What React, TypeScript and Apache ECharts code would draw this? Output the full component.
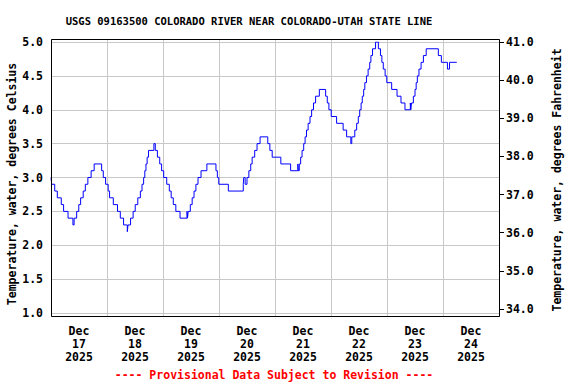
import React, { useEffect, useRef } from "react";
import * as echarts from "echarts";

// Hours since Dec 17 2025 00:00 at which the reading changes, and the reading (deg C)
const hours = [
  0, 0.3, 1.6, 2.7, 4.4, 5.4, 7.3, 9.4, 9.9, 11.0, 11.9, 12.7, 13.8, 14.7, 15.8, 17.2, 18.5, 21.7, 22.4, 23.4,
  24.5, 25.1, 26.7, 28.5, 29.7, 31.1, 32.7, 33.0, 34.1, 35.2, 36.1, 37.2, 38.3, 39.0, 39.7, 40.2, 40.7, 41.2, 41.8,
  44.1, 44.7, 45.6, 46.6, 47.4, 48.3, 49.6, 50.7, 51.5, 52.4, 53.5, 55.3, 58.3, 58.5, 58.8, 59.7, 60.5, 61.3, 62.1,
  63.0, 64.3, 66.8, 70.7, 71.3, 71.9, 76.0, 82.4, 82.6, 83.2, 84.0, 84.8, 85.6, 86.2, 87.3, 88.3, 89.6,
  92.9, 93.8, 94.8, 98.5, 102.7, 105.8, 106.0, 106.4, 107.0, 107.6, 108.3, 108.9, 109.5, 110.2, 111.0, 111.7, 112.5,
  113.4, 115.0, 117.7, 118.4, 119.1, 120.1, 122.4, 125.2, 126.7, 128.5, 128.9, 130.2, 131.0, 131.7, 132.3, 132.9,
  133.4, 134.0, 134.5, 135.2, 135.9, 136.6, 137.1, 137.8, 139.1, 140.3, 141.2, 141.8, 142.4, 143.2, 143.9, 146.0,
  148.3, 150.0, 151.7, 154.0, 154.2, 154.5, 155.3, 156.0, 156.5, 157.0, 157.7, 158.6, 159.6, 160.8, 166.0, 167.3,
  169.9, 170.8, 173.9,
];
const tempsC = [
  3.0, 2.9, 2.8, 2.7, 2.6, 2.5, 2.4, 2.3, 2.4, 2.5, 2.6, 2.7, 2.8, 2.9, 3.0, 3.1, 3.2, 3.1, 3.0, 2.9,
  2.8, 2.7, 2.6, 2.5, 2.4, 2.3, 2.2, 2.3, 2.4, 2.5, 2.6, 2.7, 2.8, 2.9, 3.0, 3.1, 3.2, 3.3, 3.4,
  3.5, 3.4, 3.3, 3.2, 3.1, 3.0, 2.9, 2.8, 2.7, 2.6, 2.5, 2.4, 2.5, 2.4, 2.5, 2.6, 2.7, 2.8, 2.9,
  3.0, 3.1, 3.2, 3.1, 3.0, 2.9, 2.8, 2.9, 3.0, 2.9, 3.0, 3.1, 3.2, 3.3, 3.4, 3.5, 3.6,
  3.5, 3.4, 3.3, 3.2, 3.1, 3.2, 3.1, 3.2, 3.3, 3.4, 3.5, 3.6, 3.7, 3.8, 3.9, 4.0, 4.1,
  4.2, 4.3, 4.2, 4.1, 4.0, 3.9, 3.8, 3.7, 3.6, 3.5, 3.6, 3.7, 3.8, 3.9, 4.0, 4.1,
  4.2, 4.3, 4.4, 4.5, 4.6, 4.7, 4.8, 4.9, 5.0, 4.9, 4.8, 4.7, 4.6, 4.5, 4.4, 4.3,
  4.2, 4.1, 4.0, 4.1, 4.0, 4.1, 4.2, 4.3, 4.4, 4.5, 4.6, 4.7, 4.8, 4.9, 4.8, 4.7,
  4.6, 4.7, 4.7,
];
const dayMonths = ["Dec", "Dec", "Dec", "Dec", "Dec", "Dec", "Dec", "Dec"];
const dayNumbers = ["17", "18", "19", "20", "21", "22", "23", "24"];
const dayYears = ["2025", "2025", "2025", "2025", "2025", "2025", "2025", "2025"];

const TITLE = "USGS 09163500 COLORADO RIVER NEAR COLORADO-UTAH STATE LINE";
const LEFT_NAME = "Temperature, water, degrees Celsius";
const RIGHT_NAME = "Temperature, water, degrees Fahrenheit";
const FOOTER = "---- Provisional Data Subject to Revision ----";

const FONT = "'DejaVu Sans Mono', 'Liberation Mono', monospace";

export default function App() {
  const ref = useRef<HTMLDivElement>(null);
  useEffect(() => {
    if (!ref.current) return;
    const chart = echarts.init(ref.current, null, { renderer: "svg" });
    const labels = dayNumbers.map((d, i) => `${dayMonths[i]}\n${d}\n${dayYears[i]}`);
    const labelStyle = {
      fontFamily: FONT,
      fontWeight: "bold" as const,
      fontSize: 11.5,
      color: "#000",
    };
    const hidden = {
      show: false,
      axisLine: { show: false, onZero: false },
      axisTick: { show: false },
      axisLabel: { show: false },
      splitLine: { show: false },
    };
    chart.setOption({
      animation: false,
      backgroundColor: "#fff",
      tooltip: { show: false },
      grid: [
        { left: 51, right: 77, top: 39, bottom: 67, show: false },
        { left: 51, right: 77, top: 42, bottom: 71 },
        { left: 51, right: 77, top: 42, bottom: 75 },
      ],
      xAxis: [
        {
          gridIndex: 0, type: "value", min: 0, max: 192, interval: 24, position: "bottom",
          axisLine: { show: false, onZero: false }, axisTick: { show: false }, axisLabel: { show: false },
          splitLine: { show: true, lineStyle: { color: "#c8c8c8", width: 1 } },
        },
        {
          gridIndex: 0, type: "category", data: labels, boundaryGap: true, position: "bottom",
          axisLine: { show: false, onZero: false }, axisTick: { show: false }, splitLine: { show: false },
          axisLabel: { ...labelStyle, lineHeight: 13, margin: 7, interval: 0 },
        },
        { gridIndex: 1, type: "value", min: 0, max: 192, ...hidden },
        { gridIndex: 2, type: "value", min: 0, max: 192, ...hidden },
      ],
      yAxis: [
        { gridIndex: 0, type: "value", min: 0, max: 1, ...hidden },
        {
          gridIndex: 1, type: "value", min: 1, max: 5, interval: 0.5, position: "left",
          axisLine: { show: false, onZero: false }, axisTick: { show: false },
          axisLabel: { ...labelStyle, margin: 8, formatter: (v: number) => v.toFixed(1) },
          splitLine: { show: true, lineStyle: { color: "#c8c8c8", width: 1 } },
        },
        {
          gridIndex: 2, type: "value", min: 34, max: 41, interval: 1, position: "right",
          axisLine: { show: false, onZero: false },
          axisTick: { show: true, length: 5, lineStyle: { color: "#000", width: 1 } },
          axisLabel: { ...labelStyle, margin: 7, formatter: (v: number) => v.toFixed(1) },
          splitLine: { show: false },
        },
      ],
      series: [
        {
          type: "line",
          xAxisIndex: 2,
          yAxisIndex: 1,
          data: hours.map((h, i) => [h, tempsC[i]]),
          step: "end",
          showSymbol: false,
          lineStyle: { color: "#0000ff", width: 1 },
          z: 4,
        },
      ],
      graphic: [
        {
          type: "rect", z: 20, silent: true,
          shape: { x: 51.5, y: 39.5, width: 448, height: 277 },
          style: { fill: "none", stroke: "#000", lineWidth: 1 },
        },
        {
          type: "text", x: 249, y: 20.5, z: 10,
          style: { text: TITLE, font: `bold 10.5px ${FONT}`, fill: "#000", align: "center", verticalAlign: "middle" },
        },
        {
          type: "text", x: 274, y: 375, z: 10,
          style: { text: FOOTER, font: `bold 11.5px ${FONT}`, fill: "#ff0000", align: "center", verticalAlign: "middle" },
        },
        {
          type: "text", x: 12, y: 184, rotation: Math.PI / 2, z: 10,
          style: { text: LEFT_NAME, font: `bold 11.5px ${FONT}`, fill: "#000", align: "center", verticalAlign: "middle" },
        },
        {
          type: "text", x: 557, y: 180, rotation: Math.PI / 2, z: 10,
          style: { text: RIGHT_NAME, font: `bold 11.5px ${FONT}`, fill: "#000", align: "center", verticalAlign: "middle" },
        },
      ],
    });
    return () => chart.dispose();
  }, []);
  return <div ref={ref} style={{ position: "absolute", left: 0, top: 0, width: 576, height: 384 }} />;
}
